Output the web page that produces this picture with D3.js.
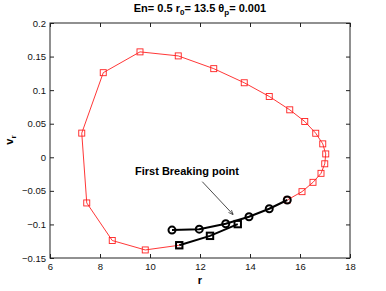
<!DOCTYPE html>
<html>
<head>
<meta charset="utf-8">
<script src="https://cdn.jsdelivr.net/npm/d3@7"></script>
<style>
  body { margin: 0; background: #fff; }
  svg { display: block; font-family: "Liberation Sans", Arial, sans-serif; }
</style>
</head>
<body>
<div id="chart"></div>
<script>
// red trajectory (r, v_r)
const redR = [11.17, 9.81, 8.49, 7.47, 7.27, 8.13, 9.6, 11.13, 12.55, 13.77, 14.77, 15.59, 16.19, 16.63, 16.91, 17.03, 16.99, 16.84, 16.52, 16.08, 15.49];
const redV = [-0.131, -0.138, -0.124, -0.068, 0.036, 0.126, 0.157, 0.151, 0.132, 0.111, 0.0906, 0.0707, 0.0533, 0.0358, 0.020, 0.005, -0.0097, -0.0239, -0.0373, -0.0512, -0.0636];
// black circles
const circR = [10.88, 11.97, 13.03, 13.96, 14.77, 15.49];
const circV = [-0.1084, -0.107, -0.099, -0.0885, -0.0766, -0.0636];
// black squares
const sqR = [11.17, 12.4, 13.51];
const sqV = [-0.131, -0.117, -0.0995];
const xTicks = [6, 8, 10, 12, 14, 16, 18];
const yTicks = [-0.15, -0.1, -0.05, 0, 0.05, 0.1, 0.15, 0.2];
const annotText = "First Breaking point";
const arrowFrom = [12.09, -0.0363];
const arrowTo = [13.33, -0.0855];

const W = 386, H = 291;
const margin = { top: 23, right: 36, bottom: 33, left: 50 };
const width = W - margin.left - margin.right;
const height = H - margin.top - margin.bottom;

const svg = d3.select("#chart").append("svg").attr("width", W).attr("height", H);

const defs = svg.append("defs");
defs.append("marker")
  .attr("id", "arrowhead")
  .attr("viewBox", "0 0 10 10")
  .attr("refX", 10).attr("refY", 5)
  .attr("markerWidth", 7).attr("markerHeight", 7)
  .attr("orient", "auto")
  .append("path")
  .attr("d", "M0,1 L10,5 L0,9")
  .attr("fill", "none")
  .attr("stroke", "#000")
  .attr("stroke-width", 1.2);

const g = svg.append("g").attr("transform", `translate(${margin.left},${margin.top})`);

const x = d3.scaleLinear().domain([6, 18]).range([0, width]);
const y = d3.scaleLinear().domain([-0.15, 0.2]).range([height, 0]);

const fmtY = (d) => (d === 0 ? "0" : d3.format("")(+d.toFixed(2)).replace("-", "\u2212"));

// axes with inward ticks on all four sides
const axB = g.append("g").attr("transform", `translate(0,${height})`)
  .call(d3.axisBottom(x).tickValues(xTicks).tickSizeInner(-4).tickSizeOuter(0).tickPadding(5));
const axT = g.append("g")
  .call(d3.axisTop(x).tickValues(xTicks).tickSizeInner(-4).tickSizeOuter(0).tickFormat(""));
const axL = g.append("g")
  .call(d3.axisLeft(y).tickValues(yTicks).tickSizeInner(-4).tickSizeOuter(0).tickPadding(4).tickFormat(fmtY));
const axR = g.append("g").attr("transform", `translate(${width},0)`)
  .call(d3.axisRight(y).tickValues(yTicks).tickSizeInner(-4).tickSizeOuter(0).tickFormat(""));

[axB, axT, axL, axR].forEach((a) => {
  a.select(".domain").remove();
  a.selectAll("line").attr("stroke", "#222");
  a.selectAll("text").attr("fill", "#111").style("font-size", "9.5px").style("font-family", "Liberation Sans, Arial, sans-serif");
});

g.append("rect")
  .attr("width", width).attr("height", height)
  .attr("fill", "none").attr("stroke", "#222").attr("stroke-width", 1);

// red trajectory
const redData = redR.map((r, i) => ({ r, v: redV[i] }));
const line = d3.line().x((d) => x(d.r)).y((d) => y(d.v));

g.append("path").datum(redData)
  .attr("fill", "none").attr("stroke", "#ff2020").attr("stroke-width", 0.9).attr("d", line);

g.selectAll(".rsq").data(redData).enter().append("rect")
  .attr("x", (d) => x(d.r) - 3).attr("y", (d) => y(d.v) - 3)
  .attr("width", 6).attr("height", 6)
  .attr("fill", "none").attr("stroke", "#ff2020").attr("stroke-width", 0.9);

// black circles series
const circData = circR.map((r, i) => ({ r, v: circV[i] }));
g.append("path").datum(circData)
  .attr("fill", "none").attr("stroke", "#000").attr("stroke-width", 2).attr("d", line);
g.selectAll(".bc").data(circData).enter().append("circle")
  .attr("cx", (d) => x(d.r)).attr("cy", (d) => y(d.v)).attr("r", 3.5)
  .attr("fill", "none").attr("stroke", "#000").attr("stroke-width", 2);

// black squares series
const sqData = sqR.map((r, i) => ({ r, v: sqV[i] }));
g.append("path").datum(sqData)
  .attr("fill", "none").attr("stroke", "#000").attr("stroke-width", 2).attr("d", line);
g.selectAll(".bs").data(sqData).enter().append("rect")
  .attr("x", (d) => x(d.r) - 3.2).attr("y", (d) => y(d.v) - 3.2)
  .attr("width", 6.4).attr("height", 6.4)
  .attr("fill", "none").attr("stroke", "#000").attr("stroke-width", 2);

// annotation
g.append("text")
  .attr("x", 85).attr("y", 152)
  .style("font-size", "11px").style("font-weight", "bold")
  .attr("fill", "#000")
  .text(annotText);

g.append("line")
  .attr("x1", x(arrowFrom[0])).attr("y1", y(arrowFrom[1]))
  .attr("x2", x(arrowTo[0])).attr("y2", y(arrowTo[1]))
  .attr("stroke", "#000").attr("stroke-width", 0.7)
  .attr("marker-end", "url(#arrowhead)");

// title, centred by measuring
const title = svg.append("text")
  .attr("x", 0).attr("y", 12)
  .style("font-size", "11px").style("font-weight", "bold");
title.append("tspan").text("En= 0.5 r");
title.append("tspan").attr("dy", 3).style("font-size", "8px").text("0");
title.append("tspan").attr("dy", -3).text("= 13.5 \u03b8");
title.append("tspan").attr("dy", 3).style("font-size", "8px").text("p");
title.append("tspan").attr("dy", -3).text("= 0.001");
const tw = title.node().getComputedTextLength();
title.attr("x", 200 - tw / 2);

// axis labels
svg.append("text")
  .attr("x", margin.left + width / 2).attr("y", 284)
  .attr("text-anchor", "middle")
  .style("font-size", "11px").style("font-weight", "bold")
  .text("r");

const yl = svg.append("text")
  .attr("transform", `translate(13,140) rotate(-90)`)
  .attr("text-anchor", "middle")
  .style("font-size", "11px").style("font-weight", "bold");
yl.append("tspan").text("v");
yl.append("tspan").attr("dy", 3).style("font-size", "8px").text("r");
</script>
</body>
</html>
